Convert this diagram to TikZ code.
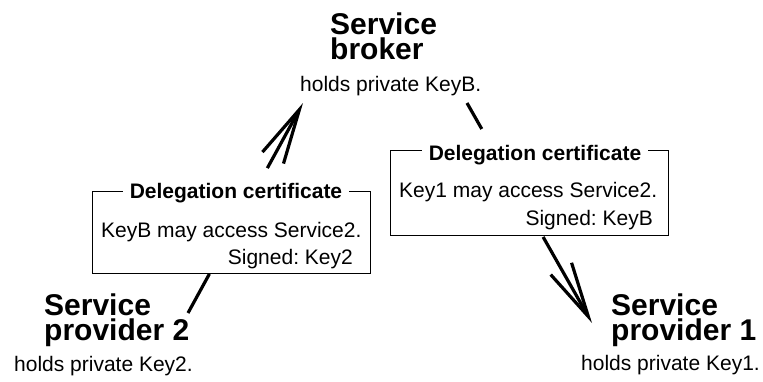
\documentclass[tikz,border=0pt]{standalone}
\usepackage{fontspec}
\setmainfont{Liberation Sans}
\usetikzlibrary{arrows.meta,calc}
\frenchspacing

\begin{document}
\begin{tikzpicture}[x=1pt,y=-1pt,
  txt/.style={inner sep=0pt, font=\fontsize{21}{25}\selectfont},
  head/.style={inner sep=0pt, align=left, font=\fontsize{30}{25}\selectfont\bfseries},
  certbox/.style={draw, line width=0.8pt, fill=white, inner sep=0pt},
  certtitle/.style={fill=white, inner xsep=7pt, inner ysep=1pt, font=\fontsize{21}{25}\selectfont\bfseries},
  conn/.style={line width=3.2pt},
  barb/.style={-{Straight Barb[length=55pt,width=24pt]}}
]
\useasboundingbox (0,0) rectangle (763,381);

% Service broker (base anchor sits on the last line)
\node[head, anchor=base west] (sb) at (330,59) {Service\\broker};
\node[txt, anchor=base west] (sbK) at (300,91) {holds private KeyB.};

% Service provider 2
\node[head, anchor=base west] (p2) at (44,340) {Service\\provider 2};
\node[txt, anchor=base west] (p2K) at (14,371) {holds private Key2.};

% Service provider 1
\node[head, anchor=base west] (p1) at (611,340) {Service\\provider 1};
\node[txt, anchor=base west] (p1K) at (581,370) {holds private Key1.};

% connector end points
\coordinate (b2) at (303,103);
\coordinate (q2) at (188,313);
\coordinate (b1) at (467,103);
\coordinate (q1) at (592,323);

% provider 2 -> broker, interrupted by the left certificate
\draw[conn] (q2) -- ($(q2)!0.186!(b2)$);
\draw[conn, barb] ($(q2)!0.69!(b2)$) -- (b2);

% broker -> provider 1, interrupted by the right certificate
\draw[conn] (b1) -- ($(b1)!0.118!(q1)$);
\draw[conn, barb] ($(b1)!0.609!(q1)$) -- (q1);

% left delegation certificate
\node[certbox, minimum width=278pt, minimum height=82pt] (c2) at (231,232) {};
\node[certtitle, anchor=base] (c2t) at (236,198) {Delegation certificate};
\node[txt, anchor=base west] (c2a) at (101,237) {KeyB may access Service2.};
\node[txt, anchor=base east] (c2b) at (353,264) {Signed: Key2};

% right delegation certificate
\node[certbox, minimum width=278pt, minimum height=85pt] (c1) at (529,192.5) {};
\node[certtitle, anchor=base] (c1t) at (535,160) {Delegation certificate};
\node[txt, anchor=base west] (c1a) at (399,197) {Key1 may access Service2.};
\node[txt, anchor=base east] (c1b) at (653,225) {Signed: KeyB};
\end{tikzpicture}
\end{document}
